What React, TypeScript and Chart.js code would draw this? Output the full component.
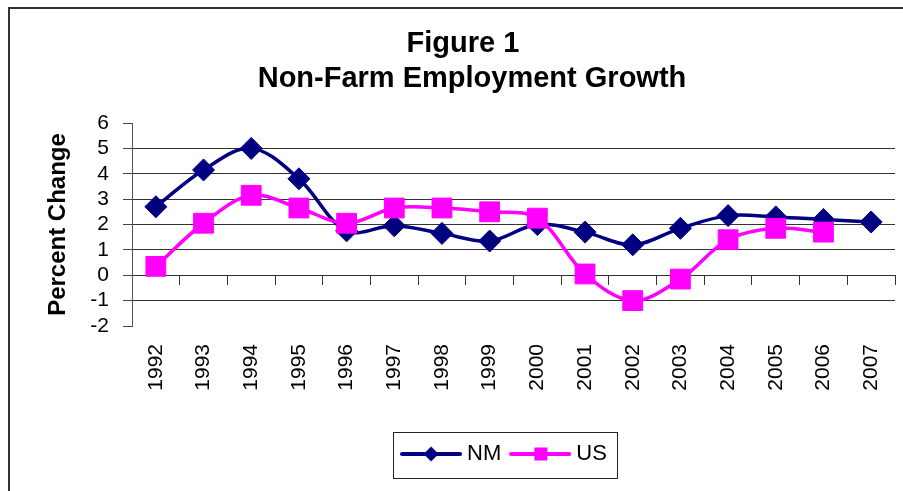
import React, { useEffect, useRef } from "react";
import { Chart, registerables } from "chart.js";

Chart.register(...registerables);

const years = ["1992", "1993", "1994", "1995", "1996", "1997", "1998", "1999", "2000", "2001", "2002", "2003", "2004", "2005", "2006", "2007"];
const nmValues = [2.7, 4.15, 5.0, 3.8, 1.75, 1.95, 1.65, 1.35, 2.0, 1.7, 1.2, 1.85, 2.35, 2.3, 2.2, 2.1];
const usValues = [0.35, 2.05, 3.15, 2.65, 2.05, 2.65, 2.65, 2.5, 2.25, 0.05, -1.0, -0.15, 1.4, 1.85, 1.7, null];
const seriesNames = ["NM", "US"];
const titleLines = ["Figure 1", "Non-Farm Employment Growth"];
const yAxisTitle = "Percent Change";
const yMin = -2;
const yMax = 6;

const NM_COLOR = "#000080";
const US_COLOR = "#FF00FF";
const FONT = "'Liberation Sans', Arial, sans-serif";

function makeLegendIcon(color: string, shape: "diamond" | "square") {
  const c = document.createElement("canvas");
  c.width = 62;
  c.height = 20;
  const g = c.getContext("2d")!;
  g.strokeStyle = color;
  g.lineWidth = 4;
  g.lineCap = "round";
  g.beginPath();
  g.moveTo(2, 10);
  g.lineTo(60, 10);
  g.stroke();
  g.fillStyle = color;
  if (shape === "diamond") {
    g.beginPath();
    g.moveTo(31, 2.5);
    g.lineTo(38.5, 10);
    g.lineTo(31, 17.5);
    g.lineTo(23.5, 10);
    g.closePath();
    g.fill();
  } else {
    g.fillRect(25, 3.5, 13, 13);
  }
  return c;
}

const framePlugin = {
  id: "frame",
  beforeDraw(chart: any) {
    const ctx = chart.ctx;
    ctx.save();
    ctx.fillStyle = "#ffffff";
    ctx.fillRect(0, 0, chart.width, chart.height);
    ctx.fillStyle = "#333333";
    ctx.fillRect(8, 7, 2, chart.height - 7);
    ctx.fillRect(8, 7, chart.width - 8, 2);
    ctx.restore();
  },
};

const titlePlugin = {
  id: "twoLineTitle",
  afterDraw(chart: any) {
    const ctx = chart.ctx;
    ctx.save();
    ctx.fillStyle = "#000";
    ctx.font = `bold 29px ${FONT}`;
    ctx.textAlign = "center";
    ctx.textBaseline = "middle";
    ctx.fillText(titleLines[0], 463, 44);
    ctx.fillText(titleLines[1], 472, 79);
    ctx.restore();
  },
};

const legendShiftPlugin = {
  id: "legendShift",
  afterLayout(chart: any) {
    const lg = chart.legend;
    if (!lg) return;
    lg.left -= 7;
    lg.right -= 7;
  },
};

const legendBoxPlugin = {
  id: "legendBox",
  afterDraw(chart: any) {
    const lg = chart.legend;
    if (!lg || !lg.legendHitBoxes || !lg.legendHitBoxes.length) return;
    const hb = lg.legendHitBoxes;
    const first = hb[0];
    const last = hb[hb.length - 1];
    const left = Math.round(first.left - 13);
    const right = Math.round(last.left + last.width + 10);
    const cy = first.top + first.height / 2;
    const ctx = chart.ctx;
    ctx.save();
    ctx.strokeStyle = "#222";
    ctx.lineWidth = 1;
    ctx.strokeRect(left + 0.5, Math.round(cy - 22) + 0.5, right - left, 46);
    ctx.restore();
  },
};

const zeroPad = (s: any) => {
  s.paddingLeft = 0;
  s.paddingRight = 0;
};

export default function App() {
  const ref = useRef<HTMLCanvasElement | null>(null);

  useEffect(() => {
    if (!ref.current) return;
    const icons = [makeLegendIcon(NM_COLOR, "diamond"), makeLegendIcon(US_COLOR, "square")];
    Chart.defaults.font.family = FONT;
    Chart.defaults.color = "#000";
    const chart = new Chart(ref.current, {
      type: "line",
      data: {
        labels: years,
        datasets: [
          {
            label: seriesNames[0],
            data: nmValues,
            borderColor: NM_COLOR,
            backgroundColor: NM_COLOR,
            borderWidth: 3.5,
            tension: 0.35,
            pointStyle: "rectRot",
            pointRadius: 11,
            pointBorderWidth: 1,
            pointBackgroundColor: NM_COLOR,
            pointBorderColor: NM_COLOR,
            order: 1,
            xAxisID: "x",
            yAxisID: "y",
          },
          {
            label: seriesNames[1],
            data: usValues,
            borderColor: US_COLOR,
            backgroundColor: US_COLOR,
            borderWidth: 3.5,
            tension: 0.35,
            pointStyle: "rect",
            pointRadius: 14,
            pointBorderWidth: 1,
            pointBackgroundColor: US_COLOR,
            pointBorderColor: US_COLOR,
            order: 0,
            xAxisID: "x",
            yAxisID: "y",
          },
        ],
      } as any,
      options: {
        responsive: false,
        animation: false,
        devicePixelRatio: 1,
        layout: { autoPadding: false, padding: { top: 123, left: 30, right: 8, bottom: 16 } },
        plugins: {
          title: { display: false },
          tooltip: { enabled: false },
          legend: {
            position: "bottom",
            fullSize: false,
            labels: {
              usePointStyle: true,
              pointStyleWidth: 50,
              padding: 14,
              color: "#000",
              font: { family: "'Liberation Sans Narrow', 'Liberation Sans', Arial, sans-serif", size: 22 },
              sort: (a: any, b: any) => a.datasetIndex - b.datasetIndex,
              generateLabels: (c: any) => {
                const items = (Chart.defaults.plugins.legend.labels as any).generateLabels(c);
                return items.map((it: any) => ({ ...it, pointStyle: icons[it.datasetIndex], lineWidth: 0 }));
              },
            },
          },
        },
        scales: {
          x: {
            type: "category",
            offset: true,
            grid: { display: false, drawTicks: false },
            border: { display: false },
            ticks: { autoSkip: false, maxRotation: 90, minRotation: 90, padding: 18, font: { size: 21 }, color: "#000" },
            afterFit: (s: any) => {
              s.height = 103;
              zeroPad(s);
            },
          },
          x2: {
            type: "category",
            axis: "x",
            labels: years,
            position: { y: 0 },
            offset: true,
            grid: { offset: true, drawOnChartArea: false, drawTicks: true, tickLength: 9, color: "#333" },
            ticks: { display: false },
            border: { display: true, color: "#333" },
            afterFit: zeroPad,
          },
          y: {
            min: yMin,
            max: yMax,
            ticks: { stepSize: 1, autoSkip: false, padding: 14, font: { size: 21 }, color: "#000" },
            grid: {
              color: (ctx: any) =>
                ctx.tick && (ctx.tick.value === yMax || ctx.tick.value === yMin) ? "rgba(0,0,0,0)" : "#333",
              tickColor: "#444",
              tickLength: 9,
              lineWidth: 1,
            },
            border: { display: true, color: "#555", width: 1 },
            title: {
              display: true,
              text: yAxisTitle,
              color: "#000",
              font: { size: 24, weight: "bold" },
              padding: { top: 14, bottom: 0 },
            },
            afterFit: (s: any) => {
              s.width = 102;
            },
          },
        },
      } as any,
      plugins: [framePlugin, titlePlugin, legendShiftPlugin, legendBoxPlugin],
    });
    return () => chart.destroy();
  }, []);

  return (
    <div style={{ position: "absolute", left: 0, top: 0, width: 903, height: 491 }}>
      <canvas ref={ref} width={903} height={491} style={{ display: "block", width: 903, height: 491 }} />
    </div>
  );
}
